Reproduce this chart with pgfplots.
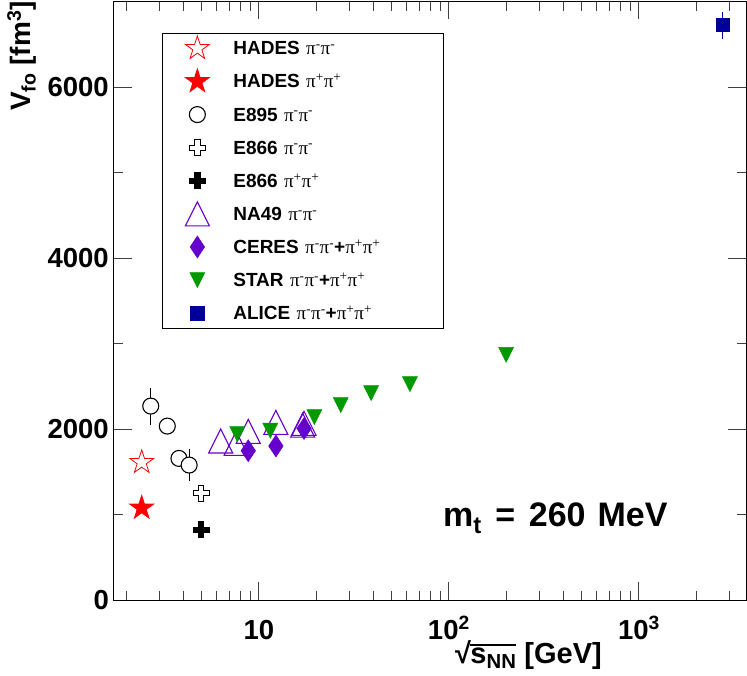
\documentclass[border=0pt]{standalone}
\usepackage{fontspec}
\setmainfont{Liberation Sans}
\newfontfamily\symf{Liberation Serif}
\usepackage{pgfplots}
\pgfplotsset{compat=1.18}
\usetikzlibrary{plotmarks}

\definecolor{hred}{RGB}{255,0,0}
\definecolor{npurple}{RGB}{102,0,204}
\definecolor{sgreen}{RGB}{0,153,0}
\definecolor{anavy}{RGB}{0,0,153}

\newcommand\pim{{\symf\mdseries π\textsuperscript{-}}}
\newcommand\pip{{\symf\mdseries π\textsuperscript{+}}}
\newcommand\sqrts{√\kern-0.6pt\vbox{\hrule height 1.4pt\kern 1.6pt\hbox{s\textsubscript{NN}}}}

\pgfdeclareplotmark{pstar}{%
 \pgfpathmoveto{\pgfpointpolar{90}{\pgfplotmarksize}}%
 \pgfpathlineto{\pgfpointpolar{126}{0.382\pgfplotmarksize}}%
 \pgfpathlineto{\pgfpointpolar{162}{\pgfplotmarksize}}%
 \pgfpathlineto{\pgfpointpolar{198}{0.382\pgfplotmarksize}}%
 \pgfpathlineto{\pgfpointpolar{234}{\pgfplotmarksize}}%
 \pgfpathlineto{\pgfpointpolar{270}{0.382\pgfplotmarksize}}%
 \pgfpathlineto{\pgfpointpolar{306}{\pgfplotmarksize}}%
 \pgfpathlineto{\pgfpointpolar{342}{0.382\pgfplotmarksize}}%
 \pgfpathlineto{\pgfpointpolar{18}{\pgfplotmarksize}}%
 \pgfpathlineto{\pgfpointpolar{54}{0.382\pgfplotmarksize}}%
 \pgfpathclose\pgfusepathqfillstroke}
\pgfdeclareplotmark{pcross}{%
 \pgfpathmoveto{\pgfpoint{0.33\pgfplotmarksize}{\pgfplotmarksize}}%
 \pgfpathlineto{\pgfpoint{0.33\pgfplotmarksize}{0.33\pgfplotmarksize}}%
 \pgfpathlineto{\pgfpoint{\pgfplotmarksize}{0.33\pgfplotmarksize}}%
 \pgfpathlineto{\pgfpoint{\pgfplotmarksize}{-0.33\pgfplotmarksize}}%
 \pgfpathlineto{\pgfpoint{0.33\pgfplotmarksize}{-0.33\pgfplotmarksize}}%
 \pgfpathlineto{\pgfpoint{0.33\pgfplotmarksize}{-\pgfplotmarksize}}%
 \pgfpathlineto{\pgfpoint{-0.33\pgfplotmarksize}{-\pgfplotmarksize}}%
 \pgfpathlineto{\pgfpoint{-0.33\pgfplotmarksize}{-0.33\pgfplotmarksize}}%
 \pgfpathlineto{\pgfpoint{-\pgfplotmarksize}{-0.33\pgfplotmarksize}}%
 \pgfpathlineto{\pgfpoint{-\pgfplotmarksize}{0.33\pgfplotmarksize}}%
 \pgfpathlineto{\pgfpoint{-0.33\pgfplotmarksize}{0.33\pgfplotmarksize}}%
 \pgfpathlineto{\pgfpoint{-0.33\pgfplotmarksize}{\pgfplotmarksize}}%
 \pgfpathclose\pgfusepathqfillstroke}
\pgfdeclareplotmark{ptriupo}{%
 \pgfpathmoveto{\pgfpoint{0pt}{\pgfplotmarksize}}%
 \pgfpathlineto{\pgfpoint{\pgfplotmarksize}{-\pgfplotmarksize}}%
 \pgfpathlineto{\pgfpoint{-\pgfplotmarksize}{-\pgfplotmarksize}}%
 \pgfpathclose\pgfusepathqstroke}
\pgfdeclareplotmark{ptridown}{%
 \pgfpathmoveto{\pgfpoint{0pt}{-\pgfplotmarksize}}%
 \pgfpathlineto{\pgfpoint{\pgfplotmarksize}{\pgfplotmarksize}}%
 \pgfpathlineto{\pgfpoint{-\pgfplotmarksize}{\pgfplotmarksize}}%
 \pgfpathclose\pgfusepathqfillstroke}
\pgfdeclareplotmark{pdiamond}{%
 \pgfpathmoveto{\pgfpoint{0pt}{\pgfplotmarksize}}%
 \pgfpathlineto{\pgfpoint{0.66\pgfplotmarksize}{0pt}}%
 \pgfpathlineto{\pgfpoint{0pt}{-\pgfplotmarksize}}%
 \pgfpathlineto{\pgfpoint{-0.66\pgfplotmarksize}{0pt}}%
 \pgfpathclose\pgfusepathqfillstroke}

\pgfplotsset{mylegend/.style={legend image code/.code={%
  \path[draw=none,fill=none] (-20pt,-14.5pt) rectangle (20pt,14.5pt);
  \draw[mark repeat=1,mark phase=1,##1] plot coordinates {(0pt,0pt)};}}}

\pgfplotstableread{
x y
2.42 1610
}\hadesmm
\pgfplotstableread{
x y
2.42 1076
}\hadespp
\pgfplotstableread{
x y e
2.7 2268 175
3.3 2034 40
3.8 1656 40
4.3 1578 146
}\eeninefive
\pgfplotstableread{
x y
4.98 1251
}\eemm
\pgfplotstableread{
x y
4.98 819
}\eepp
\pgfplotstableread{
x y
6.3 1860
7.6 1832
8.8 1972
12.3 2077
17.3 2066
17.0 2045
}\nafortynine
\pgfplotstableread{
x y
8.8 1746
12.3 1801
17.3 2005
}\ceres
\pgfplotstableread{
x y
7.7 1941
11.5 1980
19.6 2140
27 2280
39 2420
62.4 2525
200 2868
}\stardata
\pgfplotstableread{
x y e
2760 6725 117
}\alice

\begin{document}
\begin{tikzpicture}
\useasboundingbox (-114pt,-75pt) rectangle (633pt,600pt);
\begin{axis}[
  at={(0pt,0pt)}, anchor=south west,
  scale only axis, width=632pt, height=598.5pt,
  xmode=log, xmin=1.73, xmax=3660, ymin=0, ymax=7000,
  axis line style={line width=1pt},
  tick align=inside, tick pos=both,
  major tick length=18pt, minor tick length=9.5pt,
  tick style={line width=0.9pt, black!75},
  xtick={10,100,1000},
  xticklabels={10,10\textsuperscript{2},10\textsuperscript{3}},
  minor xtick={2,3,4,5,6,7,8,9,20,30,40,50,60,70,80,90,200,300,400,500,600,700,800,900,2000,3000},
  ytick={0,2000,4000,6000},
  yticklabels={0,2000,4000,6000},
  minor ytick={1000,3000,5000},
  ticklabel style={font=\fontsize{27.5}{30}\selectfont\bfseries, inner sep=0pt},
  xticklabel style={anchor=base, yshift=-39pt},
  yticklabel style={anchor=east, xshift=-5pt},
  xlabel={\sqrts\ [GeV]},
  ylabel={V\textsubscript{fo} [fm\textsuperscript{3}]},
  xlabel style={at={(axis description cs:0.7722,-0.1053)}, anchor=base east, inner sep=0pt, font=\fontsize{29}{32}\selectfont\bfseries},
  ylabel style={at={(axis description cs:-0.1329,1.0008)}, anchor=base east, inner sep=0pt, font=\fontsize{28}{31}\selectfont\bfseries},
  legend style={at={(0.0759,0.9474)}, anchor=north west, draw=black, line width=0.8pt, fill=white,
    inner xsep=15pt, inner ysep=0.5pt, column sep=16pt, row sep=4.1pt,
    font=\fontsize{19}{22}\selectfont\bfseries,
    nodes={inner sep=0pt, text height=21pt, text depth=8pt, text width=195pt, align=left}},
]
\addplot[only marks, mark=pstar, mark size=12.5pt, line width=0.8pt, draw=hred, fill=white, mark options={draw=hred, fill=white}, mylegend] table[x=x,y=y] {\hadesmm};
\addlegendentry{HADES \pim\pim}
\addplot[only marks, mark=pstar, mark size=12.5pt, line width=0.8pt, draw=hred, fill=hred, mark options={draw=hred, fill=hred}, mylegend] table[x=x,y=y] {\hadespp};
\addlegendentry{HADES \pip\pip}
\addplot[only marks, mark=*, mark size=8pt, line width=1.1pt, draw=black, fill=white, mark options={draw=black, fill=white}, mylegend,
  error bars/.cd, y dir=both, y explicit, error mark=-, error mark options={line width=1.1pt, mark size=3.5pt, black}, error bar style={line width=1.1pt, black}]
  table[x=x,y=y,y error=e] {\eeninefive};
\addlegendentry{E895 \pim\pim}
\addplot[only marks, mark=pcross, mark size=8pt, line width=1pt, draw=black, fill=white, mark options={draw=black, fill=white}, mylegend] table[x=x,y=y] {\eemm};
\addlegendentry{E866 \pim\pim}
\addplot[only marks, mark=pcross, mark size=8pt, line width=1pt, draw=black, fill=black, mark options={draw=black, fill=black}, mylegend] table[x=x,y=y] {\eepp};
\addlegendentry{E866 \pip\pip}
\addplot[only marks, mark=ptriupo, mark size=12pt, line width=1.1pt, draw=npurple, mark options={draw=npurple}, mylegend] table[x=x,y=y] {\nafortynine};
\addlegendentry{NA49 \pim\pim}
\addplot[only marks, mark=pdiamond, mark size=11pt, line width=0.5pt, draw=npurple, fill=npurple, mark options={draw=npurple, fill=npurple}, mylegend] table[x=x,y=y] {\ceres};
\addlegendentry{CERES \pim\pim+\pip\pip}
\addplot[only marks, mark=ptridown, mark size=7.5pt, line width=0.5pt, draw=sgreen, fill=sgreen, mark options={draw=sgreen, fill=sgreen}, mylegend] table[x=x,y=y] {\stardata};
\addlegendentry{STAR \pim\pim+\pip\pip}
\addplot[only marks, mark=square*, mark size=6.7pt, line width=0.5pt, draw=anavy, fill=anavy, mark options={draw=anavy, fill=anavy}, mylegend,
  error bars/.cd, y dir=both, y explicit, error mark=-, error mark options={line width=1.1pt, mark size=3.5pt, anavy}, error bar style={line width=1.1pt, anavy}]
  table[x=x,y=y,y error=e] {\alice};
\addlegendentry{ALICE \pim\pim+\pip\pip}
\node[anchor=base west, inner sep=0pt, font=\fontsize{34}{37}\selectfont\bfseries] at (axis description cs:0.5206,0.122) {m\textsubscript{t}\hspace{0.4em}=\hspace{0.4em}260\hspace{0.35em}MeV};
\end{axis}
\end{tikzpicture}
\end{document}
